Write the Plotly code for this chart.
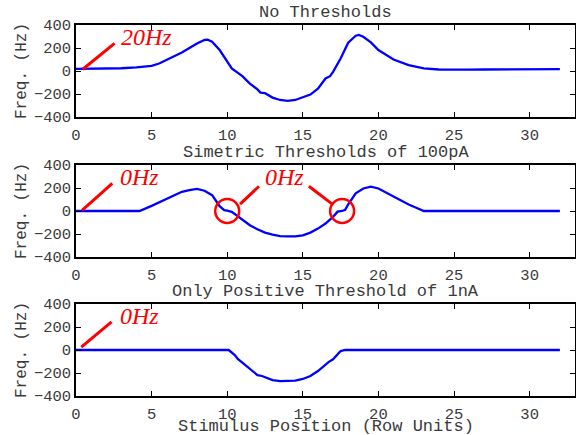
import plotly.graph_objects as go

# ---------------- data ----------------
x_none = [0, 1, 2, 3, 4, 5, 5.5, 6, 7, 8, 8.5, 8.7, 9, 9.5, 10, 10.3, 11, 11.5, 12, 12.2, 12.5,
          13, 13.5, 14, 14.5, 15, 15.5, 16, 16.5, 16.8, 17, 17.5, 18, 18.5, 18.7, 19, 19.5,
          20, 20.5, 21, 22, 23, 24, 25, 26, 27, 28, 29, 30, 31, 32]
y_none = [18, 19, 20, 24, 32, 45, 65, 95, 160, 240, 270, 272, 255, 182, 80, 22, -45, -110, -160, -188, -193,
          -231, -252, -260, -252, -231, -205, -153, -65, -45, -7, 109, 246, 307, 313, 298, 249,
          182, 138, 100, 51, 22, 13, 10, 12, 13, 13, 14, 15, 13, 16]

x_sym = [0, 2, 4.2, 5, 5.5, 6, 6.5, 7, 7.5, 8, 8.5, 9, 9.2, 9.5, 9.8, 10, 10.3, 10.7, 11, 11.5, 12,
         12.5, 13, 13.5, 14, 14.5, 15, 15.5, 16, 16.5, 17, 17.3, 17.6, 17.8, 18, 18.5, 19, 19.5,
         20, 20.5, 21, 21.5, 22, 22.5, 23, 26, 29, 32]
y_sym = [0, 0, 0, 45, 75, 105, 138, 167, 182, 193, 176, 138, 100, 42, 7, 4, -7, -45, -80, -124, -159,
         -188, -205, -218, -220, -220, -211, -188, -153, -109, -51, -6, 0, 10, 57, 153, 196, 212,
         196, 161, 124, 86, 57, 28, 0, 0, 0, 0]

x_pos = [0, 3, 6, 9, 10.1, 10.5, 10.7, 11, 11.5, 12, 12.3, 12.5, 13, 13.5, 14, 14.5, 15, 15.5,
         16, 16.5, 16.7, 17, 17.3, 17.5, 17.8, 20, 25, 32]
y_pos = [0, 0, 0, 0, 0, -44, -78, -110, -168, -218, -226, -238, -261, -270, -270, -267, -252, -226,
         -183, -122, -105, -81, -35, -9, 0, 0, 0, 0]

titles = ["No Thresholds", "Simetric Thresholds of 100pA", "Only Positive Threshold of 1nA"]
x_ticks = [0, 5, 10, 15, 20, 25, 30]
y_ticks = [-400, -200, 0, 200, 400]
x_label = "Stimulus Position (Row Units)"
y_label = "Freq. (Hz)"

# annotation callouts (panel, x0, y0, x1, y1, text x, text y, text)
callouts = [
    (1, 0.45, 15, 2.55, 240, 2.85, 292, "20Hz"),
    (2, 0.4, 5, 2.4, 240, 2.75, 292, "0Hz"),
    (3, 0.35, 25, 2.35, 245, 2.75, 292, "0Hz"),
]
# circles (panel, cx, cy)
circles = [(2, 10.0, 0), (2, 17.6, 0)]
circle_links = [(2, 10.85, 60, 12.1, 215), (2, 16.95, 60, 15.4, 215)]
mid_text = (2, 12.35, 292, "0Hz")

# ---------------- figure ----------------
W, H = 576, 435
ml, mr, mt, mb = 76, 1, 25, 39
ph = H - mt - mb
def dom(top_px, bot_px):
    return [(H - mb - bot_px) / ph, (H - mb - top_px) / ph]
domains = [dom(25, 117), dom(165, 257), dom(304, 396)]

fig = go.Figure()
series = [(x_none, y_none), (x_sym, y_sym), (x_pos, y_pos)]
for i, (xs, ys) in enumerate(series):
    sfx = "" if i == 0 else str(i + 1)
    fig.add_trace(go.Scatter(x=xs, y=ys, mode="lines", line=dict(color="#0000ff", width=2.3),
                             xaxis="x" + sfx, yaxis="y" + sfx, showlegend=False, hoverinfo="skip"))

mono = "Liberation Mono, Courier New, monospace"
tcol = "#3a3a3a"
tfont = dict(family=mono, size=15.5, color=tcol)
ax_common = dict(showline=True, linecolor="black", linewidth=1.5, mirror="ticks", ticks="inside",
                 ticklen=5, tickcolor="black", showgrid=False, zeroline=False, tickfont=tfont,
                 automargin=False)

layout = dict(width=W, height=H, margin=dict(l=ml, r=mr, t=mt, b=mb),
              paper_bgcolor="white", plot_bgcolor="white", showlegend=False)
for i in range(3):
    sfx = "" if i == 0 else str(i + 1)
    layout["xaxis" + sfx] = dict(ax_common, domain=[0, 1], range=[0, 33], tickvals=x_ticks,
                                 anchor="y" + sfx, ticklabelstandoff=3)
    layout["yaxis" + sfx] = dict(ax_common, domain=domains[i], range=[-400, 400], tickvals=y_ticks,
                                 ticktext=[("\u2212" + str(-v)) if v < 0 else str(v) for v in y_ticks],
                                 anchor="x" + sfx)
fig.update_layout(**layout)

annotations = []
shapes = []
for i, t in enumerate(titles):
    annotations.append(dict(text=t, x=0.5, y=domains[i][1], xref="paper", yref="paper",
                            xanchor="center", yanchor="bottom", yshift=1, showarrow=False,
                            font=dict(family=mono, size=17, color=tcol)))
    annotations.append(dict(text=y_label, x=0, y=(domains[i][0] + domains[i][1]) / 2,
                            xref="paper", yref="paper", xanchor="center", yanchor="middle",
                            xshift=-54, textangle=-90, showarrow=False,
                            font=dict(family=mono, size=16, color=tcol)))
annotations.append(dict(text=x_label, x=0.5, y=0, xref="paper", yref="paper", xanchor="center",
                        yanchor="top", yshift=-19, showarrow=False,
                        font=dict(family=mono, size=17, color=tcol)))

serif = dict(family="Liberation Serif, Times New Roman, serif", size=24, color="#ff0000")
def refs(p):
    s = "" if p == 1 else str(p)
    return "x" + s, "y" + s
for (p, x0, y0, x1, y1, tx, ty, txt) in callouts:
    xr, yr = refs(p)
    shapes.append(dict(type="line", xref=xr, yref=yr, x0=x0, y0=y0, x1=x1, y1=y1,
                       line=dict(color="#ff0000", width=3)))
    annotations.append(dict(text="<i>" + txt + "</i>", x=tx, y=ty, xref=xr, yref=yr,
                            xanchor="left", yanchor="middle", showarrow=False, font=serif))
for (p, cx, cy) in circles:
    xr, yr = refs(p)
    shapes.append(dict(type="circle", xref=xr, yref=yr, xsizemode="pixel", ysizemode="pixel",
                       xanchor=cx, yanchor=cy, x0=-12, x1=12, y0=-12, y1=12,
                       line=dict(color="#ff0000", width=2.5)))
for (p, x0, y0, x1, y1) in circle_links:
    xr, yr = refs(p)
    shapes.append(dict(type="line", xref=xr, yref=yr, x0=x0, y0=y0, x1=x1, y1=y1,
                       line=dict(color="#ff0000", width=3)))
p, tx, ty, txt = mid_text
xr, yr = refs(p)
annotations.append(dict(text="<i>" + txt + "</i>", x=tx, y=ty, xref=xr, yref=yr,
                        xanchor="left", yanchor="middle", showarrow=False, font=serif))

fig.update_layout(annotations=annotations, shapes=shapes)
# remove the default 8px page margin so the figure sits at the window's top-left corner
fig.write_html("out.html", config={"displayModeBar": False},
               post_script="document.body.style.margin='0';")
